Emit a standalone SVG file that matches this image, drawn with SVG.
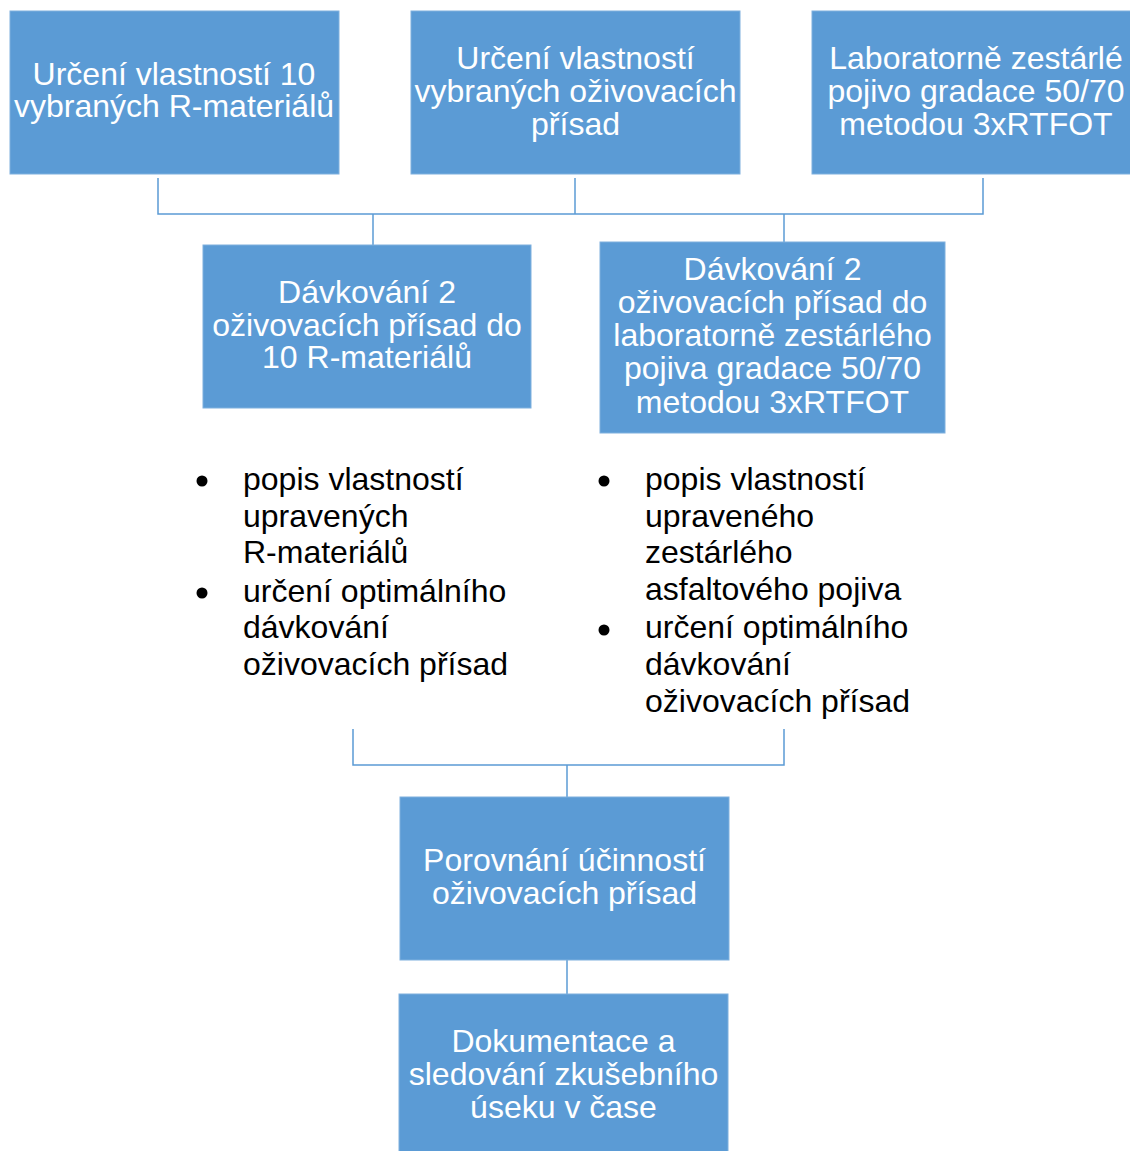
<svg xmlns="http://www.w3.org/2000/svg" width="1130" height="1151" viewBox="0 0 1130 1151">
<style>
.box{fill:#5B9BD5;stroke:#7FB0DE;stroke-width:1}
.t{font-family:"Liberation Sans",Arial,sans-serif;font-size:32px;fill:#FFFFFF;text-anchor:middle}
.b{font-family:"Liberation Sans",Arial,sans-serif;font-size:32px;fill:#000000}
.c{fill:none;stroke:#5B9BD5;stroke-width:1.5}
</style>
<rect width="1130" height="1151" fill="#FFFFFF"/>
<g id="connectors">
<path class="c" d="M158,178 V214 H983 V178"/>
<path class="c" d="M575,178 V214"/>
<path class="c" d="M373,214 V246"/>
<path class="c" d="M784,214 V242"/>
<path class="c" d="M353,729 V765 H784 V729"/>
<path class="c" d="M567,765 V797"/>
<path class="c" d="M567,960 V994"/>
</g>
<g id="n1">
<rect class="box" x="10" y="11" width="329" height="163"/>
<text class="t" x="174" y="85">Určení vlastností 10</text>
<text class="t" x="174" y="117">vybraných R-materiálů</text>
</g>
<g id="n2">
<rect class="box" x="411" y="11" width="329" height="163"/>
<text class="t" x="575.5" y="69">Určení vlastností</text>
<text class="t" x="575.5" y="102">vybraných oživovacích</text>
<text class="t" x="575.5" y="135">přísad</text>
</g>
<g id="n3">
<rect class="box" x="812" y="11" width="329" height="163"/>
<text class="t" x="976" y="69">Laboratorně zestárlé</text>
<text class="t" x="976" y="102">pojivo gradace 50/70</text>
<text class="t" x="976" y="135">metodou 3xRTFOT</text>
</g>
<g id="n4">
<rect class="box" x="203" y="245" width="328" height="163"/>
<text class="t" x="367" y="303">Dávkování 2</text>
<text class="t" x="367" y="336">oživovacích přísad do</text>
<text class="t" x="367" y="368">10 R-materiálů</text>
</g>
<g id="n5">
<rect class="box" x="600" y="242" width="345" height="191"/>
<text class="t" x="772.5" y="280">Dávkování 2</text>
<text class="t" x="772.5" y="313">oživovacích přísad do</text>
<text class="t" x="772.5" y="346">laboratorně zestárlého</text>
<text class="t" x="772.5" y="379">pojiva gradace 50/70</text>
<text class="t" x="772.5" y="413">metodou 3xRTFOT</text>
</g>
<g id="list1">
<circle cx="202" cy="481" r="5.5" fill="#000"/>
<circle cx="202" cy="593" r="5.5" fill="#000"/>
<text class="b" x="243" y="490">popis vlastností</text>
<text class="b" x="243" y="527">upravených</text>
<text class="b" x="243" y="563">R-materiálů</text>
<text class="b" x="243" y="602">určení optimálního</text>
<text class="b" x="243" y="638">dávkování</text>
<text class="b" x="243" y="675">oživovacích přísad</text>
</g>
<g id="list2">
<circle cx="604" cy="481" r="5.5" fill="#000"/>
<circle cx="604" cy="630" r="5.5" fill="#000"/>
<text class="b" x="645" y="490">popis vlastností</text>
<text class="b" x="645" y="527">upraveného</text>
<text class="b" x="645" y="563">zestárlého</text>
<text class="b" x="645" y="600">asfaltového pojiva</text>
<text class="b" x="645" y="638">určení optimálního</text>
<text class="b" x="645" y="675">dávkování</text>
<text class="b" x="645" y="712">oživovacích přísad</text>
</g>
<g id="n6">
<rect class="box" x="400" y="797" width="329" height="163"/>
<text class="t" x="564.5" y="871">Porovnání účinností</text>
<text class="t" x="564.5" y="904">oživovacích přísad</text>
</g>
<g id="n7">
<rect class="box" x="399" y="994" width="329" height="163"/>
<text class="t" x="563.5" y="1052">Dokumentace a</text>
<text class="t" x="563.5" y="1085">sledování zkušebního</text>
<text class="t" x="563.5" y="1118">úseku v čase</text>
</g>
</svg>
